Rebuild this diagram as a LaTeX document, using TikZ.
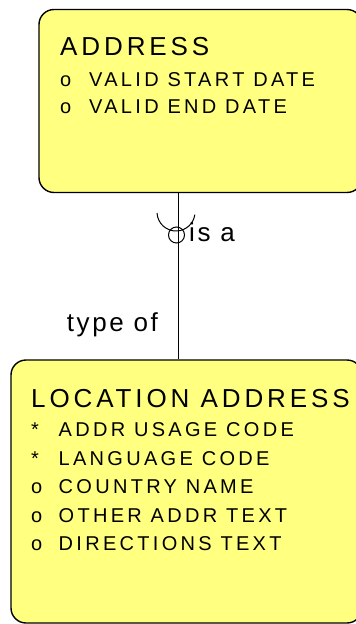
\documentclass[tikz,border=0pt]{standalone}
\usepackage{fontspec}
\setmainfont{Liberation Sans}
\newfontfamily\titlefont{Liberation Sans}[LetterSpace=15]
\newfontfamily\attrfont{Liberation Sans}[LetterSpace=16.5]
\newfontfamily\labelfont{Liberation Sans}[LetterSpace=10]
\definecolor{entityfill}{RGB}{255,255,128}
\begin{document}
\begin{tikzpicture}[x=1pt,y=-1pt,
  entity/.style={draw=black, line width=1.4pt, fill=entityfill,
    rounded corners=15pt, inner sep=0pt},
  title/.style={anchor=base west, inner sep=0pt,
    font=\titlefont\fontsize{26}{26}\selectfont},
  attr/.style={anchor=base west, inner sep=0pt,
    font=\attrfont\fontsize{20}{20}\selectfont},
  rel/.style={anchor=base west, inner sep=0pt,
    font=\labelfont\fontsize{26}{26}\selectfont},
  link/.style={draw=black, line width=1pt}]
\useasboundingbox (0,0) rectangle (356,624);
\clip (0,0) rectangle (356,624);

% entities
\node[entity, minimum width=323pt, minimum height=183pt] (address) at (200.5,101) {};
\node[entity, minimum width=351pt, minimum height=263pt] (locaddr) at (186.5,491.5) {};

% ADDRESS
\node[title] (addrT) at (60,55) {ADDRESS};
\node[attr] (addrM1) at (60,86.7) {o};
\node[attr] (addrA1) at (89,86.7) {VALID START DATE};
\node[attr] (addrM2) at (60,113.3) {o};
\node[attr] (addrA2) at (89,113.3) {VALID END DATE};

% LOCATION ADDRESS
\node[title] (locT) at (31,407) {LOCATION ADDRESS};
\node[attr] (locM1) at (31,436) {*};
\node[attr] (locA1) at (58.5,436) {ADDR USAGE CODE};
\node[attr] (locM2) at (31,465) {*};
\node[attr] (locA2) at (58.5,465) {LANGUAGE CODE};
\node[attr] (locM3) at (31,493) {o};
\node[attr] (locA3) at (58.5,493) {COUNTRY NAME};
\node[attr] (locM4) at (31,522) {o};
\node[attr] (locA4) at (58.5,522) {OTHER ADDR TEXT};
\node[attr] (locM5) at (31,550) {o};
\node[attr] (locA5) at (58.5,550) {DIRECTIONS TEXT};

% subtype relationship (y axis points down, so the arc angles run 177 -> 8)
\coordinate (relx) at (178,0);
\draw[link] (address.south -| relx) -- (locaddr.north -| relx);
\node[draw=black, line width=1pt, circle, minimum size=16pt, inner sep=0pt] (optc) at (176.5,235) {};
\draw[link] (176,212) ++(177:19) arc[start angle=177, end angle=8, radius=19];
\node[rel] (isa) at (189,241.7) {is a};
\node[rel] (typeof) at (66.7,331.7) {type of};
\end{tikzpicture}
\end{document}
